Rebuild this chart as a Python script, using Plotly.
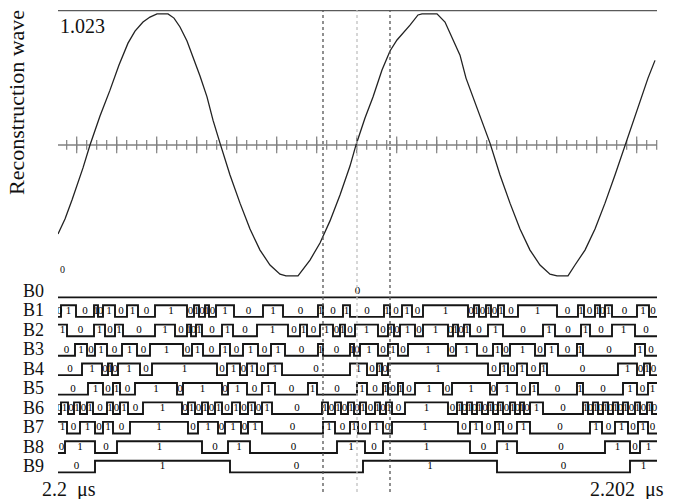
import plotly.graph_objects as go

FONT = "Liberation Serif, Times New Roman, serif"

# ---------------- reconstruction wave (time ticks, value) ----------------
wave_t = [58, 65, 72, 79, 83, 90, 100, 110, 119, 128, 135, 143, 150, 157, 168, 174, 180, 187, 193,
          200, 207, 213, 220, 230, 240, 250, 260, 270, 280, 286, 298, 305, 310, 320, 330, 340, 350,
          356, 365, 373, 382, 390, 397, 410, 418, 422, 437, 445, 452, 460, 466, 473, 481, 490, 500,
          510, 520, 530, 540, 550, 557, 568, 575, 585, 595, 605, 615, 625, 632, 640, 648, 655]
wave_v = [0.165, 0.222, 0.295, 0.372, 0.418, 0.506, 0.617, 0.716, 0.812, 0.896, 0.942, 0.977, 0.996,
          1.008, 1.008, 0.992, 0.958, 0.904, 0.843, 0.770, 0.690, 0.601, 0.513, 0.391, 0.283, 0.184,
          0.103, 0.046, 0.011, 0.004, 0.004, 0.040, 0.065, 0.130, 0.215, 0.314, 0.425, 0.506, 0.609,
          0.690, 0.793, 0.866, 0.908, 0.965, 1.004, 1.008, 1.008, 0.977, 0.916, 0.850, 0.762, 0.690,
          0.601, 0.513, 0.391, 0.283, 0.184, 0.103, 0.046, 0.011, 0.004, 0.004, 0.046, 0.103, 0.184,
          0.283, 0.391, 0.506, 0.586, 0.674, 0.762, 0.830]
wave_max = 1.023
wave_mid = 0.506
t_start, t_end = 58, 657
cursor_t = [323, 357, 390]

# ---------------- digital bits: initial level + toggle times ----------------
bit_names = ["B0", "B1", "B2", "B3", "B4", "B5", "B6", "B7", "B8", "B9"]
B0_init, B0_toggle = 0, []
B1_init, B1_toggle = 0, [61, 76, 94, 98, 103, 115, 127, 138, 155, 187, 194, 199, 205, 209, 216, 234, 263, 283,
                         318, 323, 343, 350, 384, 390, 402, 412, 423, 468, 474, 479, 486, 491, 498, 504, 518,
                         557, 578, 584, 595, 600, 605, 612, 637, 649]
B2_init, B2_toggle = 1, [67, 94, 105, 115, 123, 155, 175, 187, 191, 196, 202, 222, 233, 257, 288, 300, 307, 320,
                         333, 340, 345, 355, 378, 388, 394, 400, 415, 423, 448, 453, 458, 464, 470, 488, 503,
                         543, 555, 581, 590, 612, 635]
B3_init, B3_toggle = 0, [75, 87, 95, 107, 122, 137, 150, 183, 192, 203, 220, 230, 243, 258, 271, 285, 318, 323,
                         350, 354, 360, 378, 388, 398, 408, 448, 456, 477, 493, 502, 510, 535, 545, 558, 577,
                         583, 635, 645]
B4_init, B4_toggle = 0, [82, 102, 108, 112, 118, 140, 152, 217, 227, 240, 247, 257, 268, 282, 350, 367, 377, 382,
                         388, 488, 500, 508, 517, 527, 540, 547, 618, 637, 644, 650]
B5_init, B5_toggle = 0, [88, 103, 113, 120, 135, 177, 183, 222, 228, 247, 262, 275, 308, 317, 357, 367, 383, 388,
                         398, 403, 415, 443, 452, 490, 497, 517, 530, 538, 577, 583, 623, 637, 648]
B6_init, B6_toggle = 0, [61, 68, 74, 80, 87, 93, 107, 113, 120, 128, 143, 182, 188, 195, 202, 208, 215, 222, 232,
                         240, 248, 255, 262, 272, 322, 328, 335, 341, 348, 354, 360, 366, 375, 380, 386, 392,
                         405, 448, 457, 462, 467, 472, 477, 482, 488, 493, 498, 503, 510, 515, 520, 524, 530,
                         543, 583, 588, 593, 598, 603, 608, 613, 618, 623, 628, 635, 640, 647, 652]
B7_init, B7_toggle = 1, [67, 80, 95, 103, 113, 130, 188, 198, 218, 225, 241, 248, 262, 323, 335, 350, 358, 370,
                         383, 392, 458, 470, 482, 495, 503, 517, 530, 590, 602, 615, 628, 638, 648]
B8_init, B8_toggle = 0, [65, 95, 117, 202, 228, 250, 337, 365, 383, 470, 497, 517, 605, 630, 640]
B9_init, B9_toggle = 0, [95, 230, 363, 497, 630]

bits = [(B0_init, B0_toggle), (B1_init, B1_toggle), (B2_init, B2_toggle), (B3_init, B3_toggle),
        (B4_init, B4_toggle), (B5_init, B5_toggle), (B6_init, B6_toggle), (B7_init, B7_toggle),
        (B8_init, B8_toggle), (B9_init, B9_toggle)]

W, H = 682, 499
HI_OFF, LO_OFF, TXT_OFF = -0.27, 0.33, 0.03

fig = go.Figure()

# top reference line (full scale) and mid line
fig.add_trace(go.Scatter(x=[t_start, t_end], y=[wave_max, wave_max], mode="lines",
                         line=dict(color="#5a5a5a", width=2.5), yaxis="y", hoverinfo="skip"))
fig.add_trace(go.Scatter(x=[t_start, t_end], y=[wave_mid, wave_mid], mode="lines",
                         line=dict(color="#808080", width=1.5), yaxis="y", hoverinfo="skip"))
minor_ticks = [66.7 + 10 * i for i in range(60)]
major_ticks = [m for i, m in enumerate(minor_ticks) if i % 4 == 1]
fig.add_trace(go.Scatter(x=minor_ticks, y=[wave_mid] * len(minor_ticks), mode="markers",
                         marker=dict(symbol="line-ns", size=7, line=dict(color="#808080", width=1.2)),
                         yaxis="y", hoverinfo="skip"))
fig.add_trace(go.Scatter(x=major_ticks, y=[wave_mid] * len(major_ticks), mode="markers",
                         marker=dict(symbol="line-ns", size=12, line=dict(color="#808080", width=1.2)),
                         yaxis="y", hoverinfo="skip"))

# waveform
fig.add_trace(go.Scatter(x=wave_t, y=wave_v, mode="lines",
                         line=dict(color="#222222", width=1.3), yaxis="y", hoverinfo="skip"))

# digital rows
for k, (init, toggles) in enumerate(bits):
    times = [t_start] + toggles + [t_end]
    vals = [init]
    for _ in toggles:
        vals.append(1 - vals[-1])
    ys = [k + (HI_OFF if v else LO_OFF) for v in vals]
    fig.add_trace(go.Scatter(x=times, y=ys + [ys[-1]], mode="lines", line_shape="hv",
                             line=dict(color="#151515", width=1.9), yaxis="y2", hoverinfo="skip"))
    mids = [(times[i] + times[i + 1]) / 2 for i in range(len(vals))]
    fig.add_trace(go.Scatter(x=mids, y=[k + TXT_OFF] * len(mids), mode="text",
                             text=[str(v) for v in vals],
                             textfont=dict(family=FONT, size=11, color="#000000"),
                             yaxis="y2", hoverinfo="skip"))

# cursor lines
for i, c in enumerate(cursor_t):
    fig.add_shape(type="line", xref="x", yref="paper", x0=c, x1=c,
                  y0=1 - 492 / H, y1=1 - 10 / H,
                  line=dict(color="#c0c0c0" if i == 1 else "#555555", width=1.3, dash="dot"))

ann = []
for k, name in enumerate(bit_names):
    ann.append(dict(text=name, xref="paper", x=21 / W, xanchor="left", yref="y2", y=k,
                    yanchor="middle", showarrow=False, font=dict(family=FONT, size=18, color="#111")))
ann.append(dict(text="Reconstruction wave", xref="paper", x=17 / W, xanchor="center",
                yref="paper", y=1 - 103 / H, yanchor="middle",
                textangle=-90, showarrow=False, font=dict(family=FONT, size=22, color="#111")))
ann.append(dict(text="1.023", xref="x", x=t_start, xanchor="left", yref="y", y=wave_max,
                yanchor="top", yshift=-3, showarrow=False, font=dict(family=FONT, size=20, color="#111")))
ann.append(dict(text="0", xref="x", x=t_start, xanchor="left", yref="y", y=0,
                yanchor="bottom", showarrow=False, font=dict(family=FONT, size=10, color="#111")))
ann.append(dict(text="2.2  μs", xref="paper", x=40 / W, xanchor="left", yref="paper", y=1 - 489 / H,
                yanchor="middle", showarrow=False, font=dict(family=FONT, size=20, color="#111")))
ann.append(dict(text="2.202  μs", xref="paper", x=666 / W, xanchor="right", yref="paper", y=1 - 489 / H,
                yanchor="middle", showarrow=False, font=dict(family=FONT, size=20, color="#111")))

fig.update_layout(
    width=W, height=H, margin=dict(l=0, r=0, t=0, b=0),
    paper_bgcolor="white", plot_bgcolor="white", showlegend=False,
    xaxis=dict(range=[58, 658], domain=[58 / W, 658 / W], visible=False, fixedrange=True),
    yaxis=dict(range=[0, wave_max], domain=[1 - 277 / H, 1 - 10 / H], visible=False),
    yaxis2=dict(range=[10.70, -0.566], domain=[0, 1 - 280 / H], visible=False),
    annotations=ann,
)

fig.write_html("out.html", config={"displayModeBar": False},
               post_script="document.body.style.margin='0';document.body.style.overflow='hidden';")
